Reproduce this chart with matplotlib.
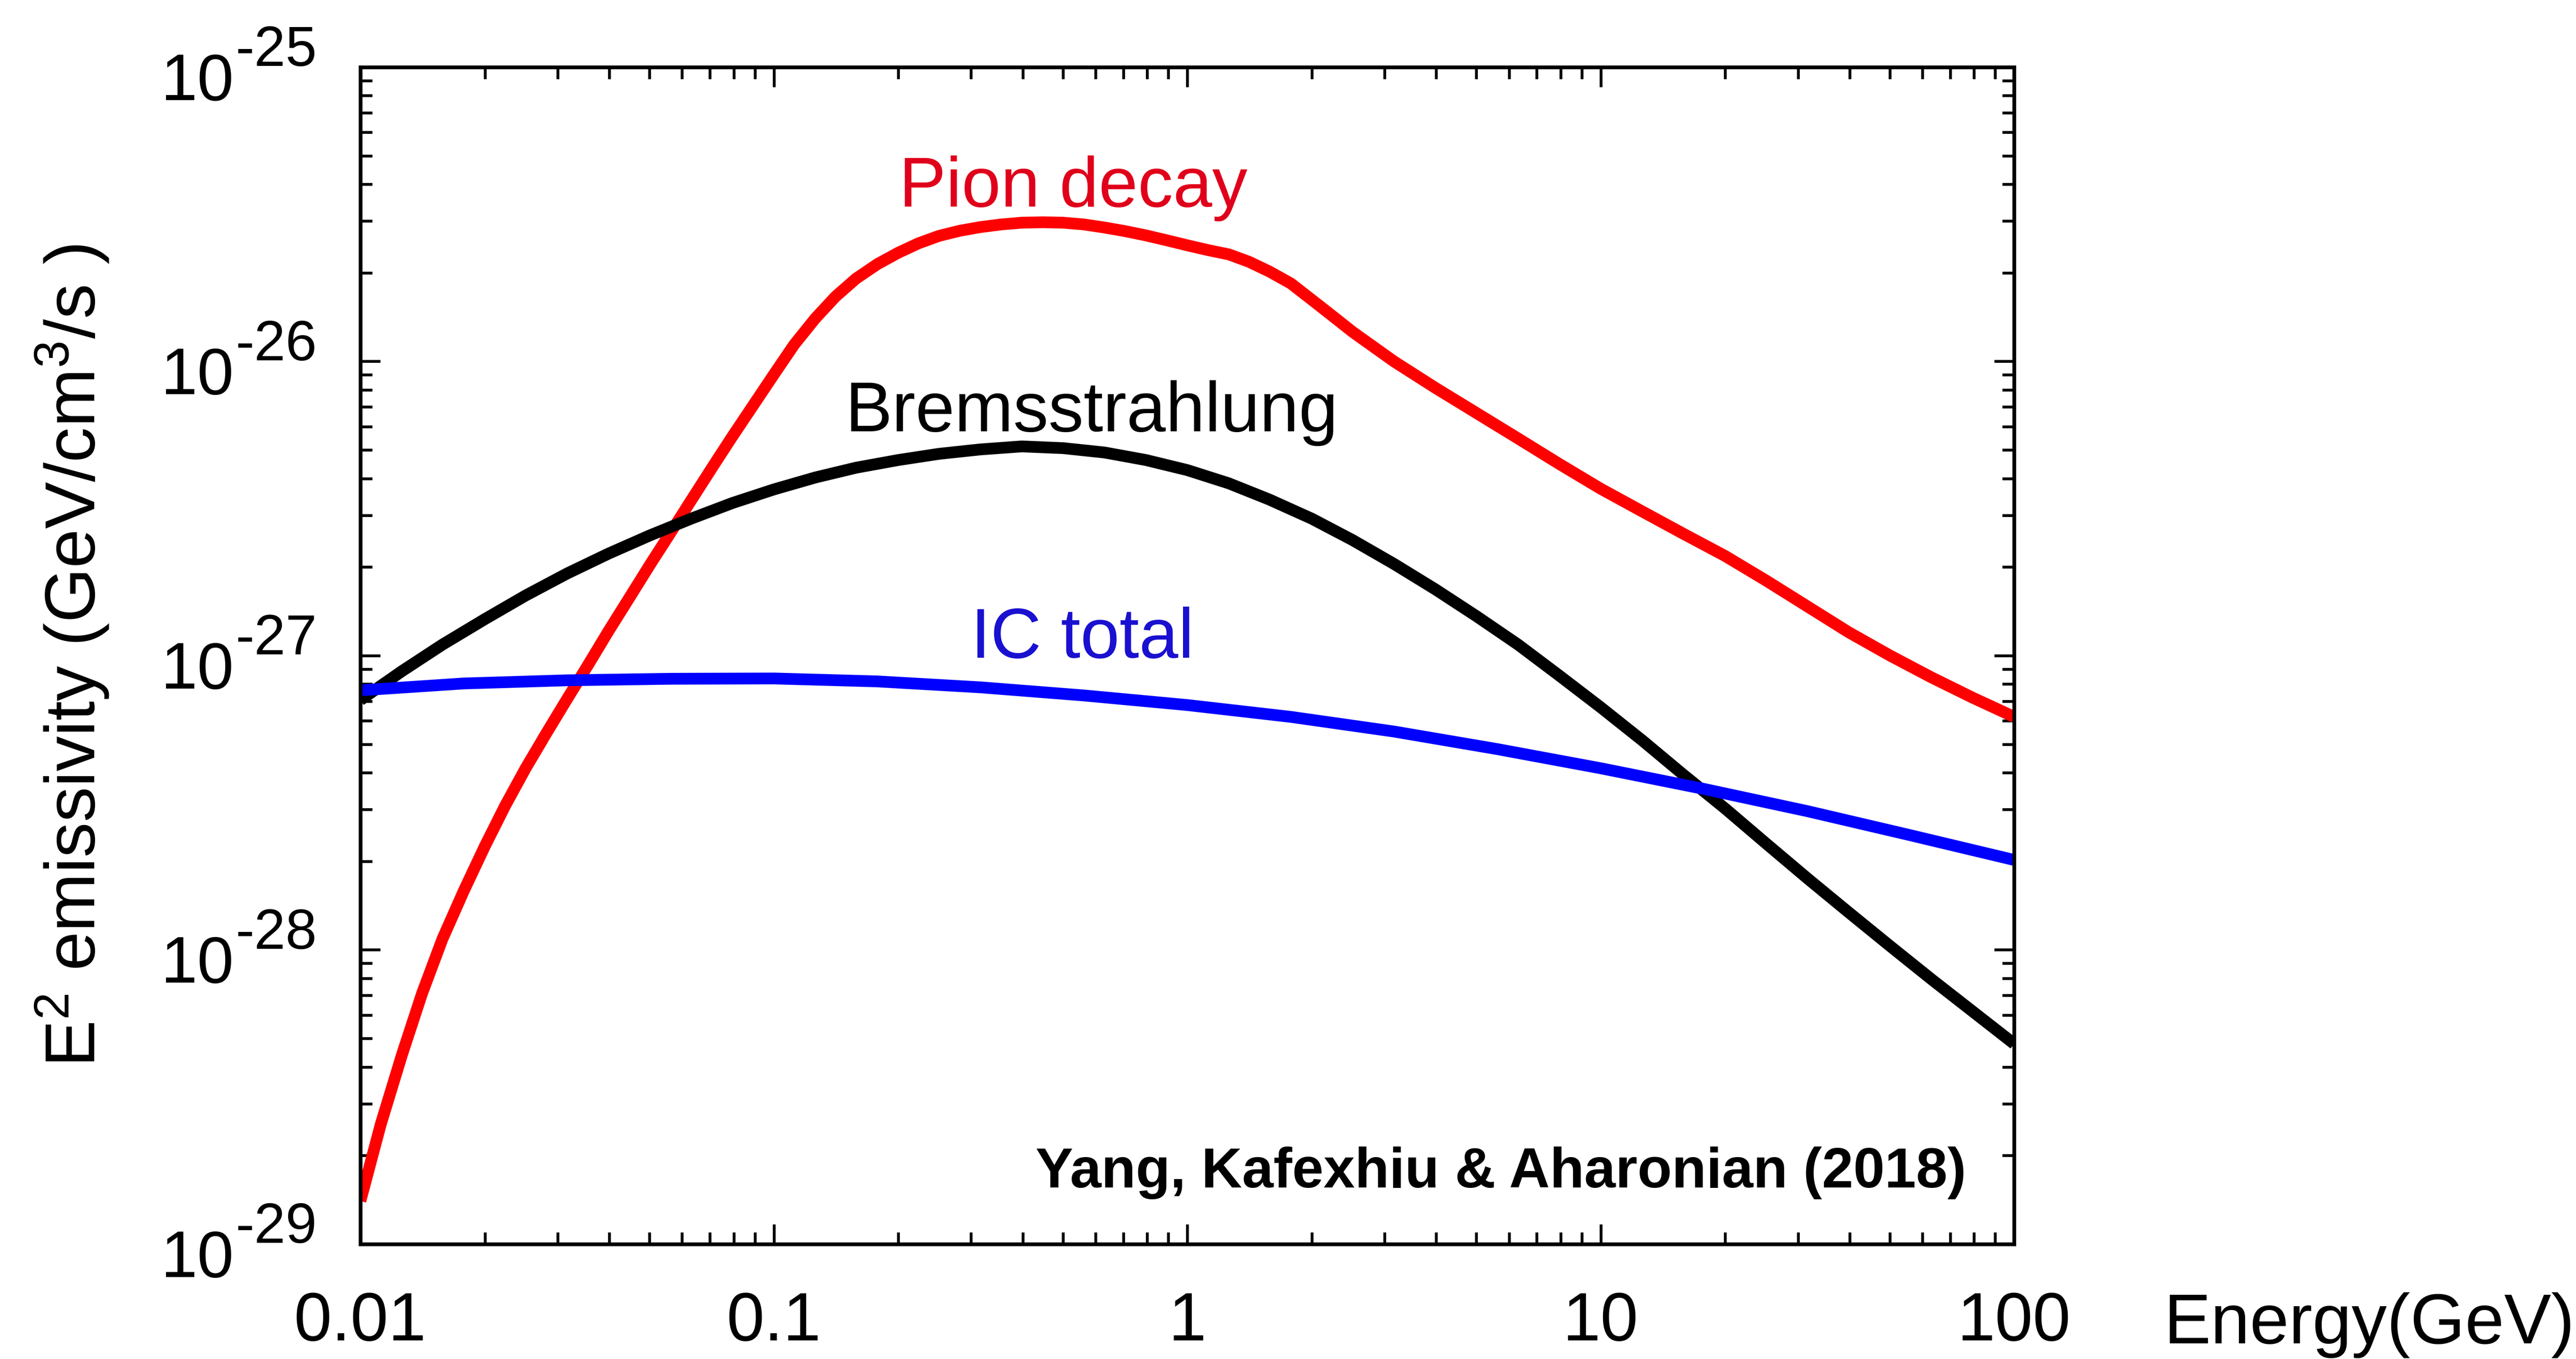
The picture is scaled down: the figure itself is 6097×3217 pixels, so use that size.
import matplotlib
matplotlib.use("Agg")
import matplotlib.pyplot as plt
from matplotlib.ticker import LogLocator, NullFormatter

# Dados (energia em GeV, emissividade E^2 em GeV/cm^3/s)
pion_energy = [0.01, 0.0112, 0.0126, 0.0141, 0.0158, 0.0178, 0.0200, 0.0224, 0.0251,
               0.0282, 0.0316, 0.0355, 0.0398, 0.0447, 0.0501, 0.0562, 0.0631, 0.0708,
               0.0794, 0.0891, 0.100, 0.112, 0.126, 0.141, 0.158, 0.178, 0.200, 0.224,
               0.251, 0.282, 0.316, 0.355, 0.398, 0.447, 0.501, 0.562, 0.631, 0.708,
               0.794, 0.891, 1.00, 1.12, 1.26, 1.41, 1.58, 1.78, 2.00, 2.24, 2.51,
               3.16, 3.98, 5.01, 6.31, 7.94, 10.0, 12.6, 15.8, 20.0, 25.1, 31.6,
               39.8, 50.1, 63.1, 79.4, 100]
pion_emis = [1.40e-29, 2.55e-29, 4.39e-29, 7.11e-29, 1.09e-28, 1.59e-28, 2.25e-28,
             3.09e-28, 4.14e-28, 5.46e-28, 7.11e-28, 9.27e-28, 1.21e-27, 1.57e-27,
             2.03e-27, 2.61e-27, 3.37e-27, 4.34e-27, 5.56e-27, 7.08e-27, 9.02e-27,
             1.14e-26, 1.40e-26, 1.66e-26, 1.91e-26, 2.14e-26, 2.34e-26, 2.52e-26,
             2.67e-26, 2.78e-26, 2.86e-26, 2.92e-26, 2.96e-26, 2.97e-26, 2.96e-26,
             2.92e-26, 2.85e-26, 2.77e-26, 2.68e-26, 2.58e-26, 2.48e-26, 2.39e-26,
             2.31e-26, 2.18e-26, 2.02e-26, 1.84e-26, 1.62e-26, 1.43e-26, 1.26e-26,
             1.00e-26, 8.13e-27, 6.67e-27, 5.47e-27, 4.48e-27, 3.69e-27, 3.09e-27,
             2.60e-27, 2.18e-27, 1.80e-27, 1.47e-27, 1.20e-27, 1.00e-27, 8.43e-28,
             7.19e-28, 6.19e-28]

brems_energy = [0.01, 0.0126, 0.0158, 0.0200, 0.0251, 0.0316, 0.0398, 0.0501, 0.0631,
                0.0794, 0.100, 0.126, 0.158, 0.200, 0.251, 0.316, 0.398, 0.501, 0.631,
                0.794, 1.00, 1.26, 1.58, 2.00, 2.51, 3.16, 3.98, 5.01, 6.31, 7.94,
                10.0, 12.6, 15.8, 20.0, 25.1, 31.6, 39.8, 50.1, 63.1, 79.4, 100]
brems_emis = [7.06e-28, 8.85e-28, 1.09e-27, 1.33e-27, 1.60e-27, 1.90e-27, 2.22e-27,
              2.56e-27, 2.92e-27, 3.30e-27, 3.67e-27, 4.03e-27, 4.35e-27, 4.62e-27,
              4.85e-27, 5.02e-27, 5.14e-27, 5.07e-27, 4.90e-27, 4.62e-27, 4.27e-27,
              3.85e-27, 3.39e-27, 2.92e-27, 2.47e-27, 2.05e-27, 1.68e-27, 1.36e-27,
              1.09e-27, 8.55e-28, 6.67e-28, 5.15e-28, 3.95e-28, 3.02e-28, 2.30e-28,
              1.75e-28, 1.34e-28, 1.03e-28, 7.94e-29, 6.17e-29, 4.79e-29]

ic_energy = [0.01, 0.0178, 0.0316, 0.0562, 0.100, 0.178, 0.316, 0.562, 1.00, 1.78,
             3.16, 5.62, 10.0, 17.8, 31.6, 56.2, 100]
ic_emis = [7.62e-28, 8.04e-28, 8.24e-28, 8.34e-28, 8.36e-28, 8.17e-28, 7.80e-28,
           7.32e-28, 6.79e-28, 6.19e-28, 5.52e-28, 4.81e-28, 4.14e-28, 3.52e-28,
           2.96e-28, 2.45e-28, 2.02e-28]

x_ticks = [0.01, 0.1, 1, 10, 100]
x_tick_labels = ["0.01", "0.1", "1", "10", "100"]
y_ticks = [1e-29, 1e-28, 1e-27, 1e-26, 1e-25]
y_exponents = ["-29", "-28", "-27", "-26", "-25"]

plt.rcParams["font.family"] = ["Liberation Sans", "DejaVu Sans"]
plt.rcParams["mathtext.fontset"] = "custom"
plt.rcParams["mathtext.rm"] = "Liberation Sans"

fig = plt.figure(figsize=(6097 / 400, 3217 / 400), dpi=400)
ax = fig.add_axes([0.1399, 0.0846, 0.6420, 0.8660])

lw = 5.0
ax.plot(pion_energy, pion_emis, color="#ff0000", lw=lw, solid_capstyle="butt")
ax.plot(brems_energy, brems_emis, color="black", lw=lw, solid_capstyle="butt")
ax.plot(ic_energy, ic_emis, color="#0000ff", lw=lw, solid_capstyle="butt")

ax.set_xscale("log")
ax.set_yscale("log")
ax.set_xlim(0.01, 100)
ax.set_ylim(1e-29, 1e-25)

# Eixos: ticks para dentro nos quatro lados
for s in ax.spines.values():
    s.set_linewidth(1.6)
ax.tick_params(which="both", direction="in", top=True, right=True, width=1.2)
ax.tick_params(which="major", length=8.5)
ax.tick_params(which="minor", length=5)
ax.tick_params(axis="x", which="major", pad=20, labelsize=29)

ax.xaxis.set_minor_locator(LogLocator(base=10, subs=range(2, 10), numticks=20))
ax.yaxis.set_minor_locator(LogLocator(base=10, subs=range(2, 10), numticks=20))
ax.xaxis.set_minor_formatter(NullFormatter())
ax.yaxis.set_minor_formatter(NullFormatter())
ax.set_xticks(x_ticks, x_tick_labels)
ax.set_yticks(y_ticks, [""] * len(y_ticks))

# Rótulos do eixo y no estilo 10^-n com expoente grande
for val, expo in zip(y_ticks, y_exponents):
    ax.annotate("10", xy=(0, val), xycoords=("axes fraction", "data"),
                xytext=(-54, -14), textcoords="offset points",
                ha="right", va="baseline", fontsize=28)
    ax.annotate(expo, xy=(0, val), xycoords=("axes fraction", "data"),
                xytext=(-18.5, 0.5), textcoords="offset points",
                ha="right", va="baseline", fontsize=24)

ax.set_ylabel(r"E$\mathregular{^2}$ emissivity (GeV/cm$\mathregular{^3}$/s )", fontsize=30)
ax.yaxis.set_label_coords(-0.1742, 0.5)
ax.yaxis.label.set_verticalalignment("center")

ax.set_xlabel("Energy(GeV)", fontsize=30, ha="left", va="baseline")
ax.xaxis.set_label_coords(1.0904, -0.0844)

# Legendas das curvas
ax.text(0.201, 3.36e-26, "Pion decay", color="#e0001b", fontsize=30,
        ha="left", va="baseline")
ax.text(0.1487, 5.79e-27, "Bremsstrahlung", color="black", fontsize=30,
        ha="left", va="baseline")
ax.text(0.2997, 9.83e-28, "IC total", color="#1a10d0", fontsize=30,
        ha="left", va="baseline")
ax.text(0.9709, 0.048, "Yang, Kafexhiu & Aharonian (2018)", transform=ax.transAxes,
        fontsize=24, fontweight="bold", ha="right", va="baseline")

fig.savefig("out.png", dpi=400, facecolor="white")
